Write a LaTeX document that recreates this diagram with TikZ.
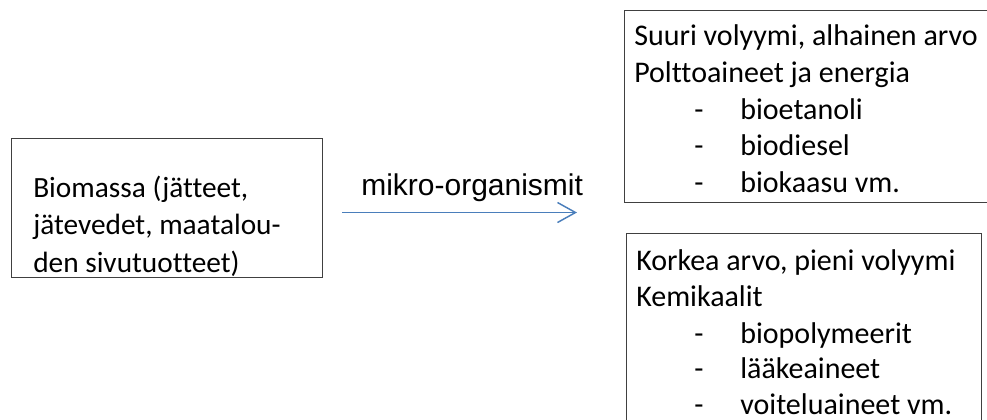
\documentclass[tikz,border=0pt]{standalone}
\usepackage{fontspec}
\setmainfont{Carlito}[Ligatures=NoCommon]
\newfontfamily\arialfont{Liberation Sans}
\usetikzlibrary{arrows.meta}
\definecolor{arrowblue}{HTML}{4A7EBB}
\definecolor{framegray}{HTML}{404040}
\begin{document}
\begin{tikzpicture}[x=0.75pt,y=-0.75pt,
  boxframe/.style={draw=framegray,line width=0.9pt,anchor=north west,inner sep=0pt},
  txt/.style={anchor=base west,inner sep=0pt,font=\fontsize{22.5}{27}\selectfont},
  ltxt/.style={anchor=base west,inner sep=0pt,font=\fontsize{22}{26}\selectfont},
  lbl/.style={anchor=base west,inner sep=0pt,font=\arialfont\fontsize{22.5}{27}\selectfont},
  arrowline/.style={draw=arrowblue,line width=1.1pt,-{Straight Barb[length=13.5pt,width=15pt,line width=1.1pt]}}]
\path[use as bounding box] (0,0) rectangle (987,419);
\clip (0,0) rectangle (987,419);
% boxes
\node[boxframe,minimum width=233.25pt,minimum height=104.25pt] (bio) at (11,138) {};
\node[boxframe,minimum width=282pt,minimum height=144pt] (fuel) at (624,10) {};
\node[boxframe,minimum width=266.25pt,minimum height=150pt] (chem) at (626,233) {};
% left box text
\node[ltxt] (b1) at (33,197) {Biomassa (jätteet,};
\node[ltxt] (b2) at (33,234.5) {jätevedet, maatalou-};
\node[ltxt] (b3) at (33,272) {den sivutuotteet)};
% arrow
\coordinate (a1) at (342,212.5);
\coordinate (a2) at (577,212.5);
\draw[arrowline] (a1) -- (a2);
\node[lbl] (mo) at (361,195) {mikro-organismit};
% top right box text
\node[txt] (f1) at (634,45.5) {Suuri volyymi, alhainen arvo};
\node[txt] (f2) at (634,82) {Polttoaineet ja energia};
\node[txt] (fd1) at (694,119) {-};
\node[txt] (fd2) at (694,155.5) {-};
\node[txt] (fd3) at (694,192) {-};
\node[txt] (f3) at (740,119) {bioetanoli};
\node[txt] (f4) at (740,155.5) {biodiesel};
\node[txt] (f5) at (740,192) {biokaasu vm.};
% bottom right box text
\node[txt] (c1) at (636,270) {Korkea arvo, pieni volyymi};
\node[txt] (c2) at (636,306) {Kemikaalit};
\node[txt] (cd1) at (694,343) {-};
\node[txt] (cd2) at (694,378.5) {-};
\node[txt] (cd3) at (694,414) {-};
\node[txt] (c3) at (740,343) {biopolymeerit};
\node[txt] (c4) at (740,378.5) {lääkeaineet};
\node[txt] (c5) at (740,414) {voiteluaineet vm.};
\end{tikzpicture}
\end{document}
